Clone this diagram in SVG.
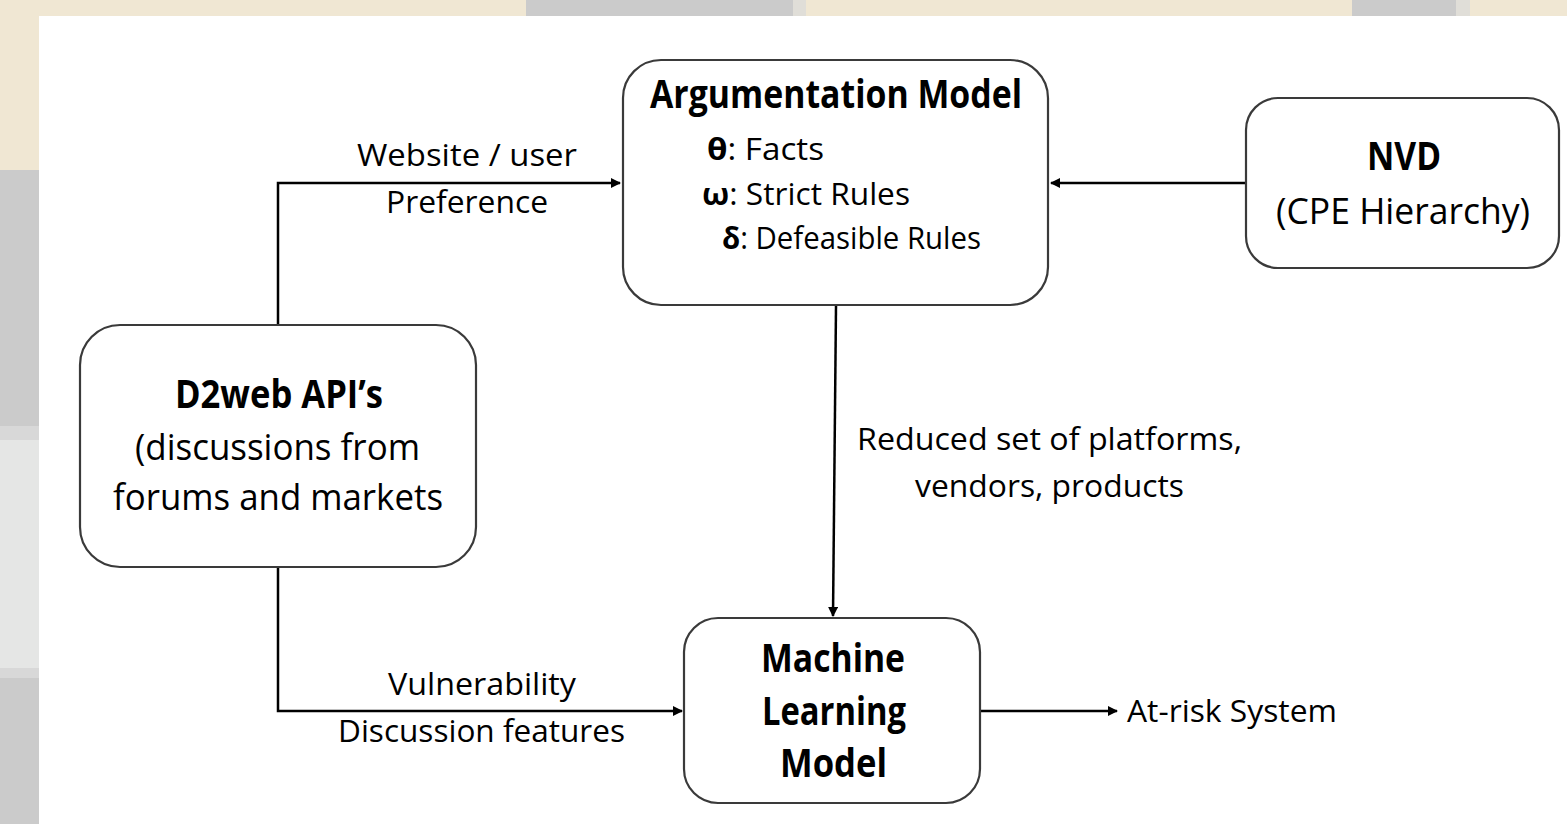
<svg xmlns="http://www.w3.org/2000/svg" width="1567" height="824" viewBox="0 0 1567 824">
<style>
.box{fill:#fff;stroke:#3a3a3a;stroke-width:2.2}
.t{font-family:"Open Sans","Liberation Sans",sans-serif;fill:#000}
.b{font-weight:bold}
.lbl{font-size:31px}
.ttl{font-size:37px}
.bt{font-size:39px}
.conn{fill:none;stroke:#000;stroke-width:2.5}
</style>
<defs>
<marker id="ah" viewBox="0 0 10 10" refX="9" refY="5" markerWidth="4" markerHeight="4" orient="auto" markerUnits="strokeWidth">
<path d="M0,0 L10,5 L0,10 z" fill="#000"/>
</marker>
</defs>
<g id="background">
<rect x="0" y="0" width="1567" height="824" fill="#fff"/>
<rect x="0" y="0" width="1567" height="16" fill="#F0E7D3"/>
<rect x="526" y="0" width="267" height="16" fill="#CBCBCB"/>
<rect x="793" y="0" width="13" height="16" fill="#E0DED8"/>
<rect x="1352" y="0" width="104" height="16" fill="#CBCBCB"/>
<rect x="1456" y="0" width="14" height="16" fill="#E0DED8"/>
<rect x="0" y="0" width="39" height="170" fill="#F0E7D3"/>
<rect x="0" y="170" width="39" height="256" fill="#CBCBCB"/>
<rect x="0" y="426" width="39" height="14" fill="#D8D8D8"/>
<rect x="0" y="440" width="39" height="228" fill="#E5E6E5"/>
<rect x="0" y="668" width="39" height="10" fill="#D8D8D8"/>
<rect x="0" y="678" width="39" height="146" fill="#CBCBCB"/>
</g>
<g id="connectors">
<polyline class="conn" points="278,325 278,183 620,183" marker-end="url(#ah)"/>
<line class="conn" x1="1245" y1="183" x2="1051" y2="183" marker-end="url(#ah)"/>
<line class="conn" x1="836" y1="306" x2="833" y2="616" marker-end="url(#ah)"/>
<polyline class="conn" points="278,567 278,711 682,711" marker-end="url(#ah)"/>
<line class="conn" x1="981" y1="711" x2="1117" y2="711" marker-end="url(#ah)"/>
<text class="t lbl" x="357" y="166" textLength="220" lengthAdjust="spacingAndGlyphs">Website / user</text>
<text class="t lbl" x="386" y="213" textLength="162" lengthAdjust="spacingAndGlyphs">Preference</text>
<text class="t lbl" x="857" y="450" textLength="385" lengthAdjust="spacingAndGlyphs">Reduced set of platforms,</text>
<text class="t lbl" x="915" y="497" textLength="269" lengthAdjust="spacingAndGlyphs">vendors, products</text>
<text class="t lbl" x="388" y="695" textLength="188" lengthAdjust="spacingAndGlyphs">Vulnerability</text>
<text class="t lbl" x="338" y="742" textLength="287" lengthAdjust="spacingAndGlyphs">Discussion features</text>
<text class="t lbl" x="1127" y="722" textLength="210" lengthAdjust="spacingAndGlyphs">At-risk System</text>
</g>
<g id="argumentation-model">
<rect class="box" x="623" y="60" width="425" height="245" rx="38"/>
<text class="t b bt" x="650" y="108" textLength="372" lengthAdjust="spacingAndGlyphs">Argumentation Model</text>
<text class="t lbl" x="707" y="160" textLength="117" lengthAdjust="spacingAndGlyphs"><tspan class="b">θ</tspan>: Facts</text>
<text class="t lbl" x="702" y="205" textLength="208" lengthAdjust="spacingAndGlyphs"><tspan class="b">ω</tspan>: Strict Rules</text>
<text class="t lbl" x="722" y="249" textLength="259" lengthAdjust="spacingAndGlyphs"><tspan class="b">δ</tspan>: Defeasible Rules</text>
</g>
<g id="nvd">
<rect class="box" x="1246" y="98" width="313" height="170" rx="32"/>
<text class="t b bt" x="1367" y="170" textLength="74" lengthAdjust="spacingAndGlyphs">NVD</text>
<text class="t ttl" x="1276" y="224" textLength="254" lengthAdjust="spacingAndGlyphs">(CPE Hierarchy)</text>
</g>
<g id="d2web">
<rect class="box" x="80" y="325" width="396" height="242" rx="40"/>
<text class="t b bt" x="175" y="408" textLength="208" lengthAdjust="spacingAndGlyphs">D2web API’s</text>
<text class="t ttl" x="135" y="460" textLength="285" lengthAdjust="spacingAndGlyphs">(discussions from</text>
<text class="t ttl" x="113" y="510" textLength="330" lengthAdjust="spacingAndGlyphs">forums and markets</text>
</g>
<g id="ml-model">
<rect class="box" x="684" y="618" width="296" height="185" rx="34"/>
<text class="t b bt" x="761" y="672" textLength="144" lengthAdjust="spacingAndGlyphs">Machine</text>
<text class="t b bt" x="762" y="725" textLength="144" lengthAdjust="spacingAndGlyphs">Learning</text>
<text class="t b bt" x="780" y="777" textLength="107" lengthAdjust="spacingAndGlyphs">Model</text>
</g>
</svg>
